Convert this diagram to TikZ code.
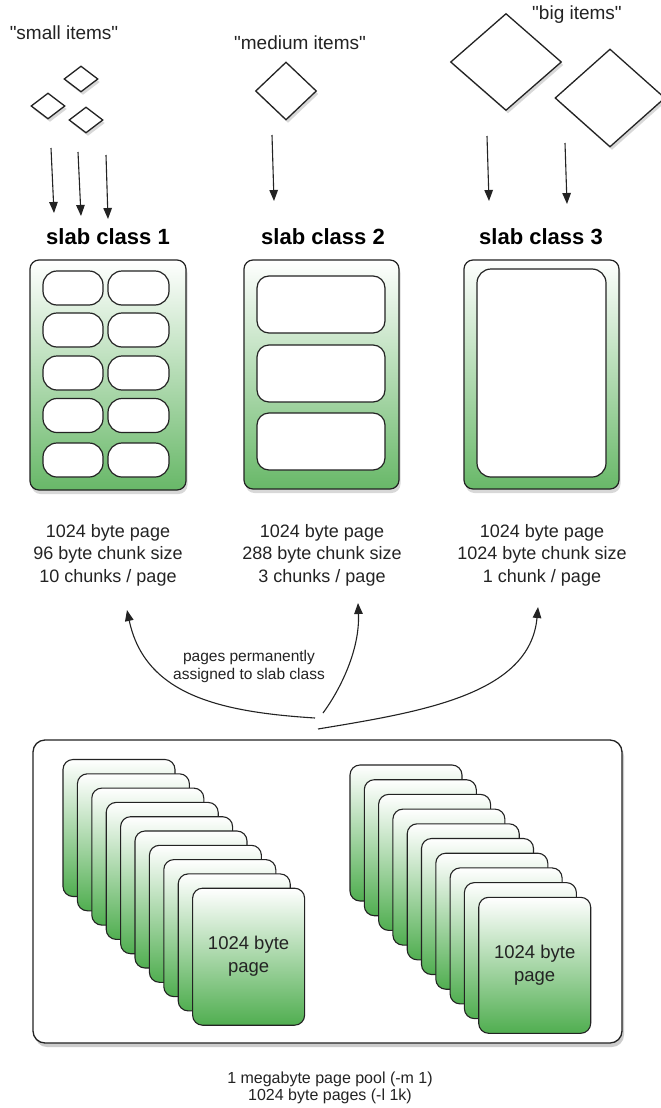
\documentclass[tikz,border=0pt]{standalone}
\usepackage{fontspec}
\setmainfont{Liberation Sans}[Ligatures=TeXOff]
\usetikzlibrary{arrows.meta,shadows,shapes.geometric}
\definecolor{slabgreen}{RGB}{104,184,104}
\definecolor{cardgreen}{RGB}{80,174,80}
\definecolor{ink}{RGB}{35,35,35}
\begin{document}
\begin{tikzpicture}[x=1pt,y=-1pt,
  itemlbl/.style={font=\fontsize{19}{22}\selectfont, text=ink, inner sep=0pt},
  slabtitle/.style={font=\fontsize{22}{26}\selectfont\bfseries, text=black, inner sep=0pt},
  infotext/.style={font=\fontsize{18}{22.5}\selectfont, align=center, text=ink, inner sep=0pt},
  smalltext/.style={font=\fontsize{15.5}{18}\selectfont, align=center, text=ink, inner sep=0pt},
  pooltext/.style={font=\fontsize{16}{17.5}\selectfont, align=center, text=ink, inner sep=0pt},
  cardtext/.style={font=\fontsize{18.5}{23}\selectfont, align=center, text=ink, inner sep=0pt},
  slabbox/.style={draw=ink, line width=1.2pt, rounded corners=9pt, top color=white,
    bottom color=slabgreen, minimum width=155pt, minimum height=229pt, inner sep=0pt,
    drop shadow={shadow xshift=1.5pt, shadow yshift=-4pt, opacity=0.3}},
  chunkbox/.style={draw=ink, line width=1.2pt, fill=white, inner sep=0pt},
  itembox/.style={diamond, draw=ink, line width=1.3pt, fill=white, inner sep=0pt,
    drop shadow={shadow xshift=2pt, shadow yshift=-3pt, opacity=0.3}},
  arr/.style={-{Triangle[length=11pt,width=8.5pt]}, line width=1.1pt, draw=ink},
  poolbox/.style={draw=ink, line width=1.3pt, rounded corners=12pt, fill=white,
    minimum width=589pt, minimum height=303pt, inner sep=0pt,
    drop shadow={shadow xshift=2pt, shadow yshift=-4pt, opacity=0.4}},
  card/.style={draw=ink, line width=1.1pt, rounded corners=10pt, top color=white,
    bottom color=cardgreen, minimum width=112pt, minimum height=137pt, inner sep=0pt}
]
\useasboundingbox (0,0) rectangle (661,1108);
\fill[white] (0,0) rectangle (661,1108);

% ---------- item labels ----------
\node[itemlbl] (smalllbl) at (64,33) {"small items"};
\node[itemlbl] (medlbl) at (300,43) {"medium items"};
\node[itemlbl] (biglbl) at (577,15) {"big items"};

% ---------- items ----------
\node[itembox, minimum width=34pt, minimum height=26pt] (s1) at (81,79) {};
\node[itembox, minimum width=34pt, minimum height=26pt] (s2) at (48,106) {};
\node[itembox, minimum width=34pt, minimum height=26pt] (s3) at (86,120) {};
\node[itembox, minimum width=61pt, minimum height=58pt] (m1) at (286,91) {};
\node[itembox, minimum width=111pt, minimum height=97pt] (b1) at (506,62) {};
\node[itembox, minimum width=110pt, minimum height=98pt] (b2) at (610,98) {};

% ---------- straight arrows ----------
\coordinate (sa1) at (51,148);  \coordinate (sb1) at (54,213);
\coordinate (sa2) at (78,152);  \coordinate (sb2) at (81,216);
\coordinate (sa3) at (106,155); \coordinate (sb3) at (108,219);
\coordinate (ma1) at (272,135); \coordinate (mb1) at (274,201);
\coordinate (ba1) at (487,136); \coordinate (bb1) at (489,201);
\coordinate (ba2) at (565,143); \coordinate (bb2) at (567,204);
\draw[arr] (sa1) -- (sb1);
\draw[arr] (sa2) -- (sb2);
\draw[arr] (sa3) -- (sb3);
\draw[arr] (ma1) -- (mb1);
\draw[arr] (ba1) -- (bb1);
\draw[arr] (ba2) -- (bb2);

% ---------- slab titles ----------
\node[slabtitle] (t1) at (108,237) {slab class 1};
\node[slabtitle] (t2) at (323,237) {slab class 2};
\node[slabtitle] (t3) at (541,237) {slab class 3};

% ---------- slab boxes ----------
\node[slabbox, minimum width=156pt, minimum height=230pt] (slab1) at (108,375) {};
\node[slabbox] (slab2) at (321.5,374.5) {};
\node[slabbox] (slab3) at (541.5,374.5) {};

% chunks of slab 1
\foreach \r/\y in {1/288,2/330,3/373,4/415.5,5/460}{
  \node[chunkbox, rounded corners=14pt, minimum width=60pt, minimum height=34pt] (c1a\r) at (73,\y) {};
  \node[chunkbox, rounded corners=14pt, minimum width=61pt, minimum height=34pt] (c1b\r) at (138.5,\y) {};
}
% chunks of slab 2
\foreach \r/\y in {1/304.5,2/373.5,3/441.5}{
  \node[chunkbox, rounded corners=12pt, minimum width=128pt, minimum height=57pt] (c2\r) at (321,\y) {};
}
% chunk of slab 3
\node[chunkbox, rounded corners=14pt, minimum width=129pt, minimum height=208pt] (c31) at (541.5,373) {};

% ---------- info texts ----------
\node[infotext] (i1) at (108,555) {1024 byte page\\96 byte chunk size\\10 chunks / page};
\node[infotext] (i2) at (322,555) {1024 byte page\\288 byte chunk size\\3 chunks / page};
\node[infotext] (i3) at (542,555) {1024 byte page\\1024 byte chunk size\\1 chunk / page};

% ---------- curved arrows ----------
\coordinate (p1s) at (315,718); \coordinate (p1e) at (127,610);
\coordinate (p2s) at (323,713); \coordinate (p2e) at (358,603);
\coordinate (p3s) at (318,729); \coordinate (p3e) at (538,607);
\draw[arr] (p1s) .. controls (220,712) and (145,695) .. (p1e);
\draw[arr] (p2s) .. controls (340,690) and (360,650) .. (p2e);
\draw[arr] (p3s) .. controls (420,712) and (530,695) .. (p3e);
\node[smalltext] (assign) at (249,666) {pages permanently\\assigned to slab class};

% ---------- page pool ----------
\node[poolbox] (pool) at (327.5,891.5) {};
\foreach \i in {0,...,9}{
  \node[card] (L\i) at ({119+14.4*\i},{828+14.3*\i}) {};
}
\node[cardtext] (Ltxt) at (L9.center) {1024 byte\\page};
\foreach \i in {0,...,9}{
  \node[card, minimum height=136pt] (R\i) at ({406+14.3*\i},{833+14.7*\i}) {};
}
\node[cardtext] (Rtxt) at (R9.center) {1024 byte\\page};

\node[pooltext] (poollbl) at (330,1088) {1 megabyte page pool (-m 1)\\1024 byte pages (-l 1k)};
\end{tikzpicture}
\end{document}
